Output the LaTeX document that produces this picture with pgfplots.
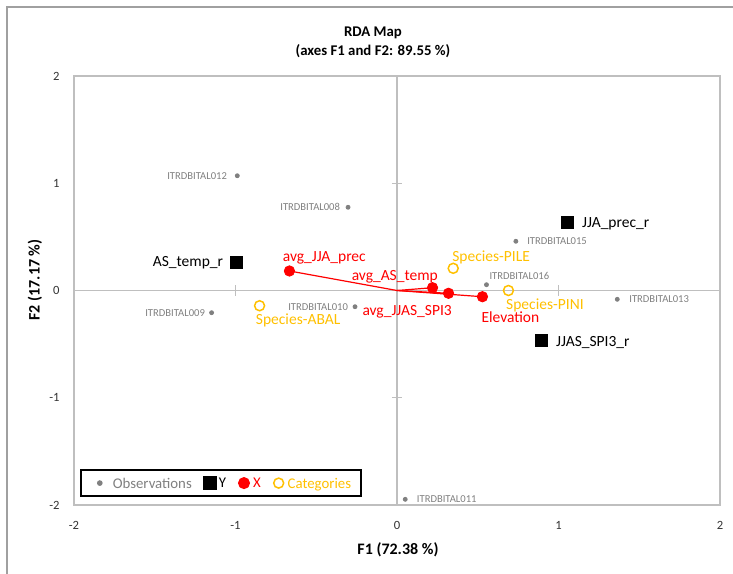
\documentclass[border=0pt]{standalone}
\usepackage{fontspec}
\setmainfont{Carlito}
\usepackage{pgfplots}
\pgfplotsset{compat=1.18}
\usetikzlibrary{calc}

\definecolor{obsgray}{HTML}{808080}
\definecolor{catorange}{HTML}{FFC000}
\definecolor{xred}{HTML}{FF0000}
\definecolor{axgray}{HTML}{BFBFBF}
\definecolor{framegray}{HTML}{A0A0A0}

\tikzset{
  obslab/.style={font=\fontsize{5.3}{6}\selectfont, text=obsgray, text height=3.4pt},
  ylab/.style={font=\fontsize{7.75}{8}\selectfont, text=black, text height=5pt},
  xlab/.style={font=\fontsize{7.75}{8}\selectfont, text=xred, text height=5pt},
  catlab/.style={font=\fontsize{7.75}{8}\selectfont, text=catorange, text height=5pt},
}
\pgfplotsset{
  dotimg/.style={legend image code/.code={\path[draw=none,fill=none] (-3.5pt,-1pt) rectangle (3.5pt,1pt);
     \draw[mark repeat=2,mark phase=2,##1] plot coordinates {(-3.5pt,0pt) (0pt,0pt) (3.5pt,0pt)};}},
  dotimgwide/.style={legend image code/.code={\path[draw=none,fill=none] (-5.5pt,-1pt) rectangle (5.5pt,1pt);
     \draw[mark repeat=2,mark phase=2,##1] plot coordinates {(-3.5pt,0pt) (0pt,0pt) (3.5pt,0pt)};}},
}
% #1 style, #2 anchor, #3 dx, #4 dy, #5 x, #6 y, #7 text
\newcommand{\lab}[7]{\addplot[draw=none, forget plot, nodes near coords={#7},
  every node near coord/.append style={#1, anchor=#2, xshift=#3pt, yshift=#4pt, inner sep=0pt, text depth=0pt}]
  coordinates {(#5,#6)};}

\begin{document}
\begin{tikzpicture}
\begin{axis}[
  name=ax,
  scale only axis,
  width=323pt, height=214.5pt,
  xmin=-2, xmax=2, ymin=-2, ymax=2,
  xtick={-2,-1,0,1,2}, ytick={-2,-1,0,1,2},
  major tick length=0pt,
  axis line style={axgray, line width=0.6pt},
  clip=false,
  /pgf/number format/assume math mode=true,
  ticklabel style={font=\fontsize{6.3}{7}\selectfont, text=black!80},
  yticklabel style={anchor=east, inner sep=0pt, xshift=-7pt},
  xticklabel style={anchor=north, inner sep=0pt, yshift=-7.8pt},
  xlabel={F1 (72.38 \%)},
  ylabel={F2 (17.17 \%)},
  label style={font=\bfseries\fontsize{8}{9}\selectfont},
  xlabel style={at={(axis description cs:0.5015,-0.1049)}, anchor=center},
  ylabel style={at={(axis description cs:-0.0604,0.5245)}, anchor=center, rotate=0},
  title={RDA Map\\(axes F1 and F2: 89.55 \%)},
  title style={at={(axis description cs:0.4628,1.050)}, anchor=center, align=center, font=\bfseries\fontsize{7.4}{9.5}\selectfont},
  legend style={at={(axis description cs:0.0093,0.0186)}, anchor=south west, draw=black, line width=0.8pt,
    font=\fontsize{7.4}{8}\selectfont, inner xsep=4pt, inner ysep=2pt,
    nodes={inner xsep=1pt, text depth=0pt},
    /tikz/every even column/.append style={column sep=4.5pt}},
  legend columns=4,
]
% zero lines
\draw[axgray, line width=0.7pt] (axis cs:-2,0) -- (axis cs:2,0);
\draw[axgray, line width=0.7pt] (axis cs:0,-2) -- (axis cs:0,2);
\draw[axgray, line width=0.6pt] ([yshift=-2.6pt]axis cs:-1,0) -- ([yshift=2.6pt]axis cs:-1,0);
\draw[axgray, line width=0.6pt] ([yshift=-2.6pt]axis cs:1,0) -- ([yshift=2.6pt]axis cs:1,0);
\draw[axgray, line width=0.6pt] ([xshift=-2.6pt]axis cs:0,1) -- ([xshift=2.6pt]axis cs:0,1);
\draw[axgray, line width=0.6pt] ([xshift=-2.6pt]axis cs:0,-1) -- ([xshift=2.6pt]axis cs:0,-1);

% vectors for X
\addplot[xred, line width=0.6pt, forget plot] coordinates {(0,0) (-0.666,0.182)};
\addplot[xred, line width=0.6pt, forget plot] coordinates {(0,0) (0.220,0.026)};
\addplot[xred, line width=0.6pt, forget plot] coordinates {(0,0) (0.319,-0.026)};
\addplot[xred, line width=0.6pt, forget plot] coordinates {(0,0) (0.529,-0.058)};

% Observations
\addplot[only marks, mark=*, mark size=1pt, color=obsgray, dotimgwide] coordinates {
(-0.989,1.070) (-0.303,0.776) (0.736,0.459) (0.554,0.054)
(1.364,-0.082) (-1.148,-0.207) (-0.260,-0.151) (0.051,-1.947)};
\addlegendentry{\textcolor{obsgray}{Observations}}

% Y
\addplot[only marks, mark=square*, mark size=3pt, color=black, dotimg] coordinates {
(-0.997,0.266) (1.053,0.639) (0.892,-0.462)};
\addlegendentry{Y}

% X
\addplot[only marks, mark=*, mark size=2.6pt, color=xred, dotimg] coordinates {
(-0.666,0.182) (0.220,0.026) (0.319,-0.026) (0.529,-0.058)};
\addlegendentry{\textcolor{xred}{X}}

% Categories
\addplot[only marks, mark=o, mark size=2.5pt, line width=0.75pt, color=catorange, dotimg] coordinates {
(-0.851,-0.142) (0.348,0.207) (0.690,0.000)};
\addlegendentry{\textcolor{catorange}{Categories}}

% labels
\lab{obslab}{east}{-5}{0}{-0.989}{1.070}{ITRDBITAL012}
\lab{obslab}{east}{-3.85}{0}{-0.303}{0.776}{ITRDBITAL008}
\lab{obslab}{west}{5.5}{0}{0.736}{0.459}{ITRDBITAL015}
\lab{obslab}{west}{1.35}{4.2}{0.554}{0.054}{ITRDBITAL016}
\lab{obslab}{west}{5.85}{0}{1.364}{-0.082}{ITRDBITAL013}
\lab{obslab}{east}{-3.15}{0}{-1.148}{-0.207}{ITRDBITAL009}
\lab{obslab}{east}{-3.35}{0}{-0.260}{-0.151}{ITRDBITAL010}
\lab{obslab}{west}{5.65}{0}{0.051}{-1.947}{ITRDBITAL011}

\lab{ylab}{east}{-6.25}{0}{-0.997}{0.266}{AS\_temp\_r}
\lab{ylab}{west}{7.35}{-0.4}{1.053}{0.639}{JJA\_prec\_r}
\lab{ylab}{west}{7.35}{-0.5}{0.892}{-0.462}{JJAS\_SPI3\_r}

\lab{xlab}{west}{-3.5}{7}{-0.666}{0.182}{avg\_JJA\_prec}
\lab{xlab}{east}{2.85}{6.35}{0.220}{0.026}{avg\_AS\_temp}
\lab{xlab}{east}{1.85}{-8.85}{0.319}{-0.026}{avg\_JJAS\_SPI3}
\lab{xlab}{west}{-0.65}{-10.15}{0.529}{-0.058}{Elevation}

\lab{catlab}{west}{-2}{-6.65}{-0.851}{-0.142}{Species-ABAL}
\lab{catlab}{west}{-0.65}{6.15}{0.348}{0.207}{Species-PILE}
\lab{catlab}{west}{-1.3}{-6.9}{0.690}{0.000}{Species-PINI}
\end{axis}
\draw[framegray, line width=0.9pt] ($(ax.south west)+(-33.5pt,-60pt)$) -- ($(ax.north west)+(-33.5pt,34.5pt)$) -- ($(ax.north east)+(30pt,34.5pt)$);
\pgfresetboundingbox
\path[use as bounding box] ($(ax.south west)+(-37pt,-34pt)$) rectangle ($(ax.north east)+(6.5pt,38pt)$);
\end{tikzpicture}
\end{document}
